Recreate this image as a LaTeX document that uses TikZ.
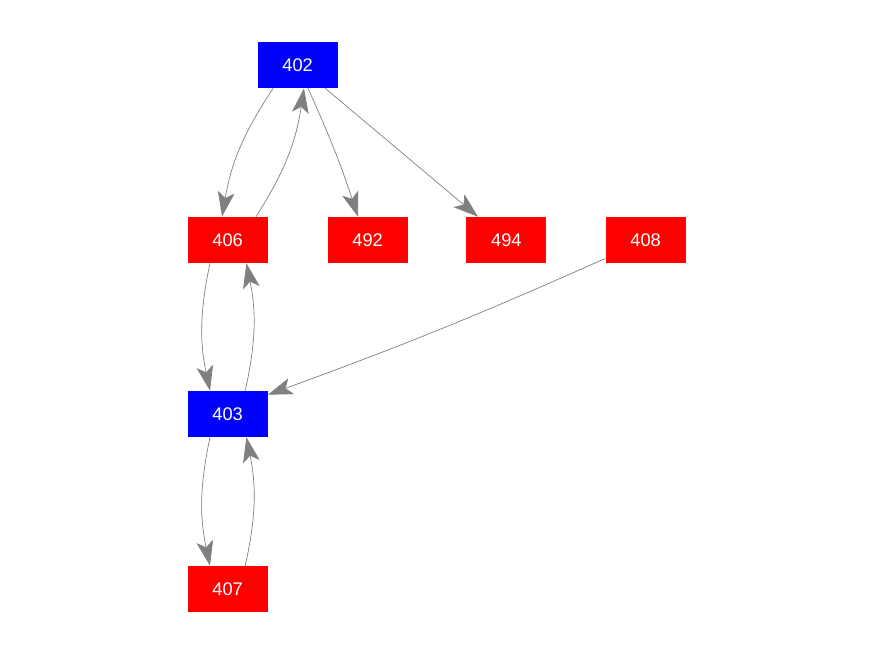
\documentclass[tikz,border=0pt]{standalone}
\usepackage{fontspec}
\setmainfont{Liberation Sans}
\usetikzlibrary{arrows.meta}

\tikzset{
	bluebox/.style={rectangle, fill=blue, text=white, minimum width=2cm, minimum height=1.15cm, inner sep=0pt, font=\fontsize{13}{15}\selectfont},
	redbox/.style={bluebox, fill=red},
	link/.style={draw=gray, line width=0.5pt, -{Stealth[length=6.2mm, width=4.2mm, inset=1.5mm]}}
}

\begin{document}
\begin{tikzpicture}
			%%%%% START %%%%%
			\useasboundingbox (0, 0) rectangle (21.9, 16.4);
			
			\node[bluebox] (n402) at (7.44, 14.775) {402};
			\node[redbox] (n406) at (5.69, 10.4) {406};
			\node[redbox] (n492) at (9.19, 10.4) {492};
			\node[redbox] (n494) at (12.66, 10.4) {494};
			\node[redbox] (n408) at (16.14, 10.4) {408};
			\node[bluebox] (n403) at (5.69, 6.05) {403};
			\node[redbox] (n407) at (5.69, 1.675) {407};
			
			\draw[link] ([xshift=-0.61cm]n402.south) to[bend right=12] ([xshift=-0.14cm]n406.north);
			\draw[link] ([xshift=0.71cm]n406.north) to[bend right=12] ([xshift=0.16cm]n402.south);
			\draw[link] ([xshift=0.26cm]n402.south) to[bend left=3] ([xshift=-0.24cm]n492.north);
			\draw[link] ([xshift=0.69cm]n402.south) -- ([xshift=-0.71cm]n494.north);
			
			\draw[link] ([yshift=0.12cm]n408.south west) to[bend left=2] ([yshift=-0.1cm]n403.north east);
			
			\draw[link] ([xshift=-0.44cm]n406.south) to[bend right=12] ([xshift=-0.44cm]n403.north);
			\draw[link] ([xshift=0.44cm]n403.north) to[bend right=12] ([xshift=0.47cm]n406.south);
			
			\draw[link] ([xshift=-0.44cm]n403.south) to[bend right=12] ([xshift=-0.44cm]n407.north);
			\draw[link] ([xshift=0.44cm]n407.north) to[bend right=12] ([xshift=0.47cm]n403.south);
			
			%%%%% END %%%%%
		\end{tikzpicture}
\end{document}
